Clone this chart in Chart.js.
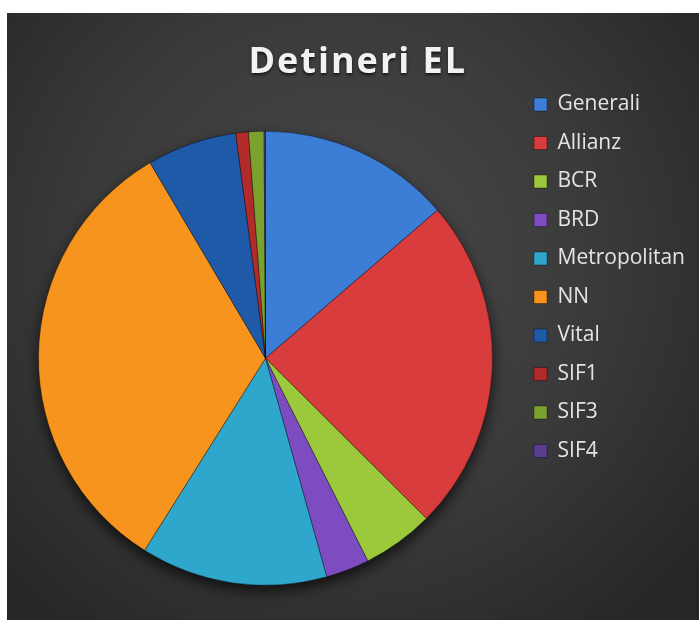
<!DOCTYPE html>
<html>
<head>
<meta charset="utf-8">
<script src="https://cdn.jsdelivr.net/npm/chart.js@4/dist/chart.umd.min.js"></script>
<style>
  html, body { margin: 0; padding: 0; background: #ffffff; overflow: hidden; width: 699px; height: 620px; }
  #wrap { position: absolute; left: 0; top: 0; width: 699px; height: 640px; }
</style>
</head>
<body>
<div id="wrap"><canvas id="c" width="699" height="640"></canvas></div>
<script>
const chartTitle = 'Detineri EL';
const categories = ['Generali', 'Allianz', 'BCR', 'BRD', 'Metropolitan', 'NN', 'Vital', 'SIF1', 'SIF3', 'SIF4'];
const holdings = [13.7, 23.8, 5.1, 3.1, 13.3, 32.6, 6.4, 0.9, 1.1, 0.1];
const sliceColors = ['#3c7ed6', '#d83c3c', '#9cc83c', '#7d4cc0', '#2fa7cc', '#f7941d', '#1f5aa8', '#b22b2b', '#7ba12f', '#5b3d8f'];

const backgroundPlugin = {
  id: 'bg',
  beforeDraw(chart) {
    const ctx = chart.ctx;
    ctx.save();
    ctx.fillStyle = '#ffffff';
    ctx.fillRect(0, 0, chart.width, chart.height);
    const g = ctx.createRadialGradient(340, 260, 0, 340, 260, 470);
    g.addColorStop(0, '#4a4a4a');
    g.addColorStop(0.55, '#3a3a3a');
    g.addColorStop(1, '#262626');
    ctx.fillStyle = g;
    ctx.fillRect(7, 13, chart.width - 7, chart.height - 13);
    ctx.restore();
  },
  afterLayout(chart) {
    const tb = chart.titleBlock;
    if (tb && !tb._patched) {
      const orig = tb.draw.bind(tb);
      tb.draw = function () {
        const c = this.ctx;
        c.save();
        c.letterSpacing = '2px';
        c.shadowColor = 'rgba(0,0,0,0.65)';
        c.shadowBlur = 3;
        c.shadowOffsetY = 2;
        c.translate(3, 4);
        orig();
        c.restore();
      };
      tb._patched = true;
    }
  },
  beforeDatasetsDraw(chart) {
    const arc = chart.getDatasetMeta(0).data[0];
    if (!arc) return;
    const ctx = chart.ctx;
    ctx.save();
    ctx.shadowColor = 'rgba(0,0,0,0.7)';
    ctx.shadowBlur = 14;
    ctx.shadowOffsetY = 6;
    ctx.beginPath();
    ctx.arc(arc.x, arc.y, arc.outerRadius, 0, Math.PI * 2);
    ctx.fillStyle = '#2a2a2a';
    ctx.fill();
    ctx.restore();
  }
};

Chart.defaults.font.family = "'Open Sans', 'Liberation Sans', sans-serif";

new Chart(document.getElementById('c'), {
  type: 'pie',
  data: {
    labels: categories,
    datasets: [{
      data: holdings,
      backgroundColor: sliceColors,
      borderColor: 'rgba(0,0,0,0.35)',
      borderWidth: 1
    }]
  },
  options: {
    responsive: false,
    animation: false,
    radius: 227,
    layout: { padding: { top: 40.5, bottom: 0, left: 14.5, right: 4 } },
    plugins: {
      title: {
        display: true,
        text: chartTitle,
        color: '#f2f2f2',
        font: { size: 36, weight: 'bold', lineHeight: 1 },
        padding: 0
      },
      legend: {
        position: 'right',
        align: 'start',
        fullSize: false,
        labels: {
          color: '#e4e4e4',
          font: { size: 21 },
          boxWidth: 13,
          boxHeight: 13,
          padding: 17.5
        }
      },
      tooltip: { enabled: false }
    }
  },
  plugins: [backgroundPlugin]
});
</script>
</body>
</html>
